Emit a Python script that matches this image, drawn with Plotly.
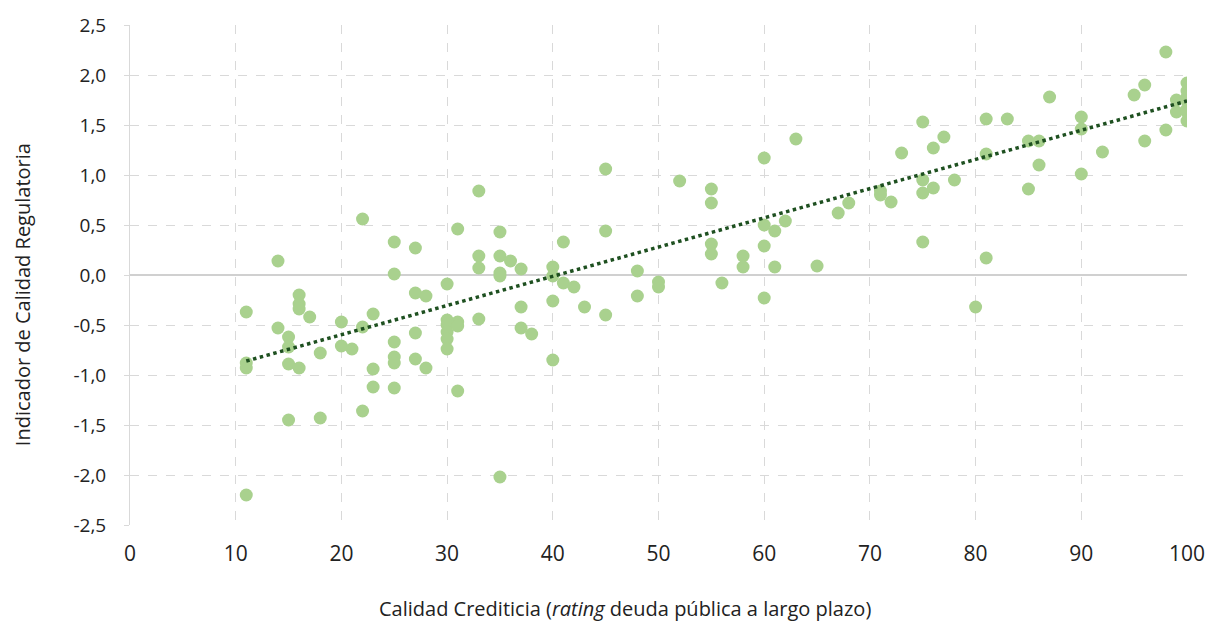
import plotly.graph_objects as go

# Credit quality (x) and regulatory quality indicator (y)
rating = [11, 11, 11, 11,
          14, 14,
          15, 15, 15, 15,
          16, 16, 16, 16,
          17, 18, 18, 20, 20, 21,
          22, 22, 22, 23, 23, 23,
          25, 25, 25, 25, 25, 25,
          27, 27, 27, 27, 28, 28,
          30, 30, 30, 30, 30, 30,
          31, 31, 31, 31,
          33, 33, 33, 33,
          35, 35, 35, 35, 35,
          36, 37, 37, 37, 38,
          40, 40, 40, 40, 41, 41, 42, 43,
          45, 45, 45, 48, 48, 50, 50, 52,
          55, 55, 55, 55, 56, 58, 58,
          60, 60, 60, 60, 61, 61, 62, 63, 65, 67, 68,
          71, 71, 72, 73,
          75, 75, 75, 75, 76, 76, 77, 78,
          80, 81, 81, 81, 83, 85, 85, 86, 86, 87,
          90, 90, 90, 92, 95, 96, 96, 98, 98, 99, 99,
          100, 100, 100, 100, 100, 100, 100]
calidad = [-0.37, -0.88, -0.93, -2.20,
           0.14, -0.53,
           -0.62, -0.72, -0.89, -1.45,
           -0.20, -0.29, -0.34, -0.93,
           -0.42, -0.78, -1.43, -0.47, -0.71, -0.74,
           0.56, -0.52, -1.36, -0.39, -0.94, -1.12,
           0.33, 0.01, -0.67, -0.82, -0.88, -1.13,
           0.27, -0.18, -0.58, -0.84, -0.21, -0.93,
           -0.09, -0.45, -0.50, -0.57, -0.64, -0.74,
           0.46, -0.47, -0.51, -1.16,
           0.84, 0.19, 0.07, -0.44,
           0.43, 0.19, 0.02, -0.01, -2.02,
           0.14, 0.06, -0.32, -0.53, -0.59,
           0.08, -0.01, -0.26, -0.85, 0.33, -0.08, -0.12, -0.32,
           1.06, 0.44, -0.40, 0.04, -0.21, -0.07, -0.12, 0.94,
           0.86, 0.72, 0.31, 0.21, -0.08, 0.19, 0.08,
           1.17, 0.50, 0.29, -0.23, 0.44, 0.08, 0.54, 1.36, 0.09, 0.62, 0.72,
           0.84, 0.80, 0.73, 1.22,
           1.53, 0.95, 0.82, 0.33, 1.27, 0.87, 1.38, 0.95,
           -0.32, 1.56, 1.21, 0.17, 1.56, 1.34, 0.86, 1.34, 1.10, 1.78,
           1.58, 1.46, 1.01, 1.23, 1.80, 1.90, 1.34, 2.23, 1.45, 1.75, 1.63,
           1.92, 1.84, 1.78, 1.74, 1.66, 1.63, 1.54]

# Linear trend line as drawn in the reference (endpoints)
trend_x = [11, 100]
trend_y = [-0.86, 1.74]

x_ticks = list(range(0, 101, 10))
y_ticks = [-2.5, -2.0, -1.5, -1.0, -0.5, 0.0, 0.5, 1.0, 1.5, 2.0, 2.5]
y_labels = ["-2,5", "-2,0", "-1,5", "-1,0", "-0,5", "0,0", "0,5", "1,0", "1,5", "2,0", "2,5"]

x_title = "Calidad Crediticia (<i>rating</i> deuda pública a largo plazo)"
y_title = "Indicador de Calidad Regulatoria"

fig = go.Figure()
fig.add_trace(go.Scatter(
    x=rating, y=calidad, mode="markers",
    marker=dict(color="#A9D18E", size=13, line=dict(width=0)),
    showlegend=False, hoverinfo="x+y"))
fig.add_trace(go.Scatter(
    x=trend_x, y=trend_y, mode="lines",
    line=dict(color="#1E5020", width=3.5, dash="dot"),
    showlegend=False, hoverinfo="skip"))

font_main = "Open Sans, sans-serif"
fig.update_layout(
    width=1207, height=622,
    margin=dict(l=130, r=20, t=25, b=97, autoexpand=False),
    paper_bgcolor="white", plot_bgcolor="white",
    font=dict(family=font_main, color="#222222", size=18),
    xaxis=dict(
        range=[0, 100], tickvals=x_ticks, ticktext=[str(v) for v in x_ticks],
        automargin=False,
        showgrid=True, gridcolor="#D9D9D9", griddash="dash", gridwidth=1,
        zeroline=False, showline=False, ticks="",
        ticklabelstandoff=14,
        tickfont=dict(family=font_main, size=21, color="#222222"),
    ),
    yaxis=dict(
        range=[-2.5, 2.5], tickvals=y_ticks, ticktext=y_labels,
        automargin=False,
        showgrid=True, gridcolor="#D9D9D9", griddash="dash", gridwidth=1,
        zeroline=True, zerolinecolor="#D0D0D0", zerolinewidth=1.5,
        showline=True, linecolor="#D9D9D9", linewidth=1,
        ticks="outside", ticklen=5, tickcolor="#D9D9D9",
        ticklabelstandoff=14,
        tickfont=dict(family=font_main, size=19, color="#222222"),
    ),
    annotations=[
        dict(text=x_title, xref="paper", yref="paper", x=0.468, y=-0.166,
             xanchor="center", yanchor="middle", showarrow=False,
             font=dict(family=font_main, size=20, color="#222222")),
        dict(text=y_title, xref="paper", yref="paper", x=-0.102, y=0.46,
             xanchor="center", yanchor="middle", showarrow=False, textangle=-90,
             font=dict(family=font_main, size=20, color="#222222")),
    ],
)

fig.write_html("out.html")
